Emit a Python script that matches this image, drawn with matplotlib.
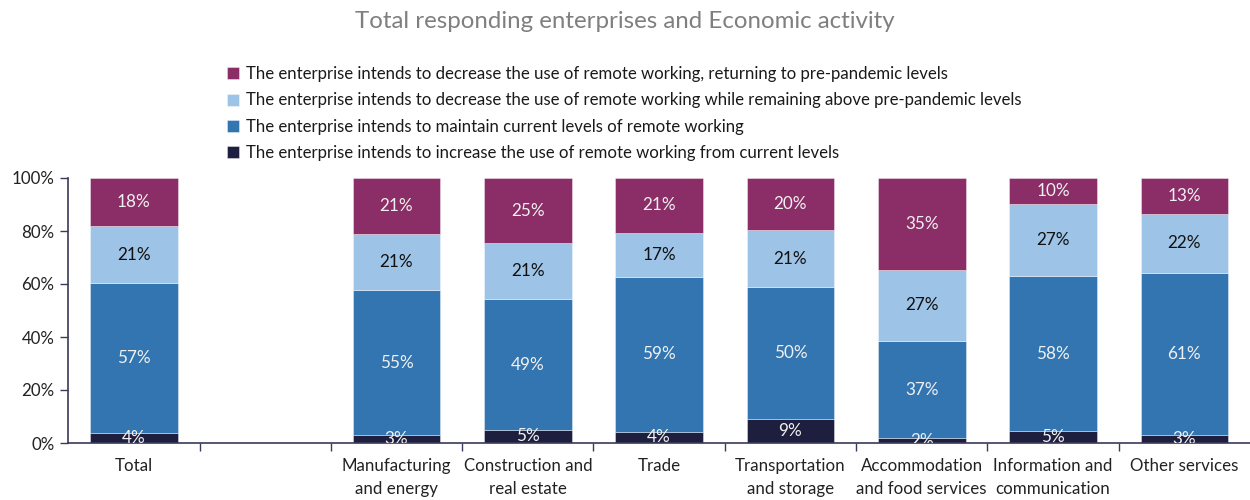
import matplotlib
matplotlib.use("Agg")
import matplotlib.pyplot as plt
import numpy as np

plt.rcParams['font.family'] = ['Lato', 'DejaVu Sans']

categories = ["Total", "", "Manufacturing\nand energy", "Construction and\nreal estate", "Trade",
              "Transportation\nand storage", "Accommodation\nand food services",
              "Information and\ncommunication", "Other services"]

series_names = [
    "The enterprise intends to increase the use of remote working from current levels",
    "The enterprise intends to maintain current levels of remote working",
    "The enterprise intends to decrease the use of remote working while remaining above pre-pandemic levels",
    "The enterprise intends to decrease the use of remote working, returning to pre-pandemic levels",
]

increase = [3.8, None, 3.0, 5.0, 4.2, 9.2, 1.8, 4.6, 3.0]
maintain = [56.6, None, 54.7, 49.2, 58.6, 49.7, 36.6, 58.3, 61.2]
decrease_above = [21.3, None, 21.0, 21.2, 16.6, 21.3, 27.0, 27.2, 22.4]
decrease_pre = [18.3, None, 21.3, 24.6, 20.6, 19.8, 34.6, 9.9, 13.4]

colors = ["#1e1e3e", "#3375b0", "#9dc3e6", "#8b2d66"]
label_colors = ["#f0f0f0", "#f0f0f0", "#111111", "#f0f0f0"]

fig = plt.figure(figsize=(12.5, 5), dpi=100)
ax = fig.add_axes([0.0546, 0.114, 0.9454, 0.53])

all_series = [increase, maintain, decrease_above, decrease_pre]
x = np.arange(len(categories))
bottom = np.zeros(len(categories))
bars_handles = []
for s, vals in enumerate(all_series):
    v = np.array([np.nan if a is None else a for a in vals], dtype=float)
    vv = np.nan_to_num(v)
    bars = ax.bar(x, vv, width=0.667, bottom=bottom, color=colors[s],
                  edgecolor=(1, 1, 1, 0.45), linewidth=0.6, label=series_names[s], zorder=2)
    bars_handles.append(bars)
    for i in range(len(x)):
        if np.isnan(v[i]):
            continue
        yc = bottom[i] + vv[i] / 2
        ax.text(x[i], yc, f"{v[i]:.0f}%", ha='center', va='center',
                fontsize=12.3, color=label_colors[s], zorder=3, clip_on=True)
    bottom = bottom + vv

ax.set_xlim(-0.5, 8.5)
ax.set_ylim(0, 100)
ax.set_yticks([0, 20, 40, 60, 80, 100])
ax.set_yticklabels([f"{t}%" for t in [0, 20, 40, 60, 80, 100]], fontsize=12.2, color="#222222")
ax.set_xticks(x)
ax.set_xticklabels(categories, fontsize=12.2, color="#222222", linespacing=1.55)
ax.set_xticks(np.arange(0.5, 8.5, 1.0), minor=True)
ax.tick_params(axis='x', which='major', length=0, pad=11)
ax.tick_params(axis='x', which='minor', length=6, width=1, color="#3a3a5a", direction='out')
ax.tick_params(axis='y', length=6, width=1, color="#3a3a5a", direction='out', pad=4)

for sp in ['top', 'right']:
    ax.spines[sp].set_visible(False)
for sp in ['left', 'bottom']:
    ax.spines[sp].set_color("#3a3a5a")
    ax.spines[sp].set_linewidth(1.2)

fig.text(0.5, 0.958, "Total responding enterprises and Economic activity", ha='center', va='center',
         fontsize=17.3, color="#7f7f7f")

handles = [bars_handles[3], bars_handles[2], bars_handles[1], bars_handles[0]]
labels = [series_names[3], series_names[2], series_names[1], series_names[0]]
leg = fig.legend(handles, labels, loc='upper left', bbox_to_anchor=(0.176, 0.881), frameon=False,
                 fontsize=12.1, handlelength=0.72, handleheight=0.72, handletextpad=0.4,
                 labelspacing=0.61, borderaxespad=0)
for t in leg.get_texts():
    t.set_color("#1a1a1a")

fig.savefig("out.png", dpi=100)
